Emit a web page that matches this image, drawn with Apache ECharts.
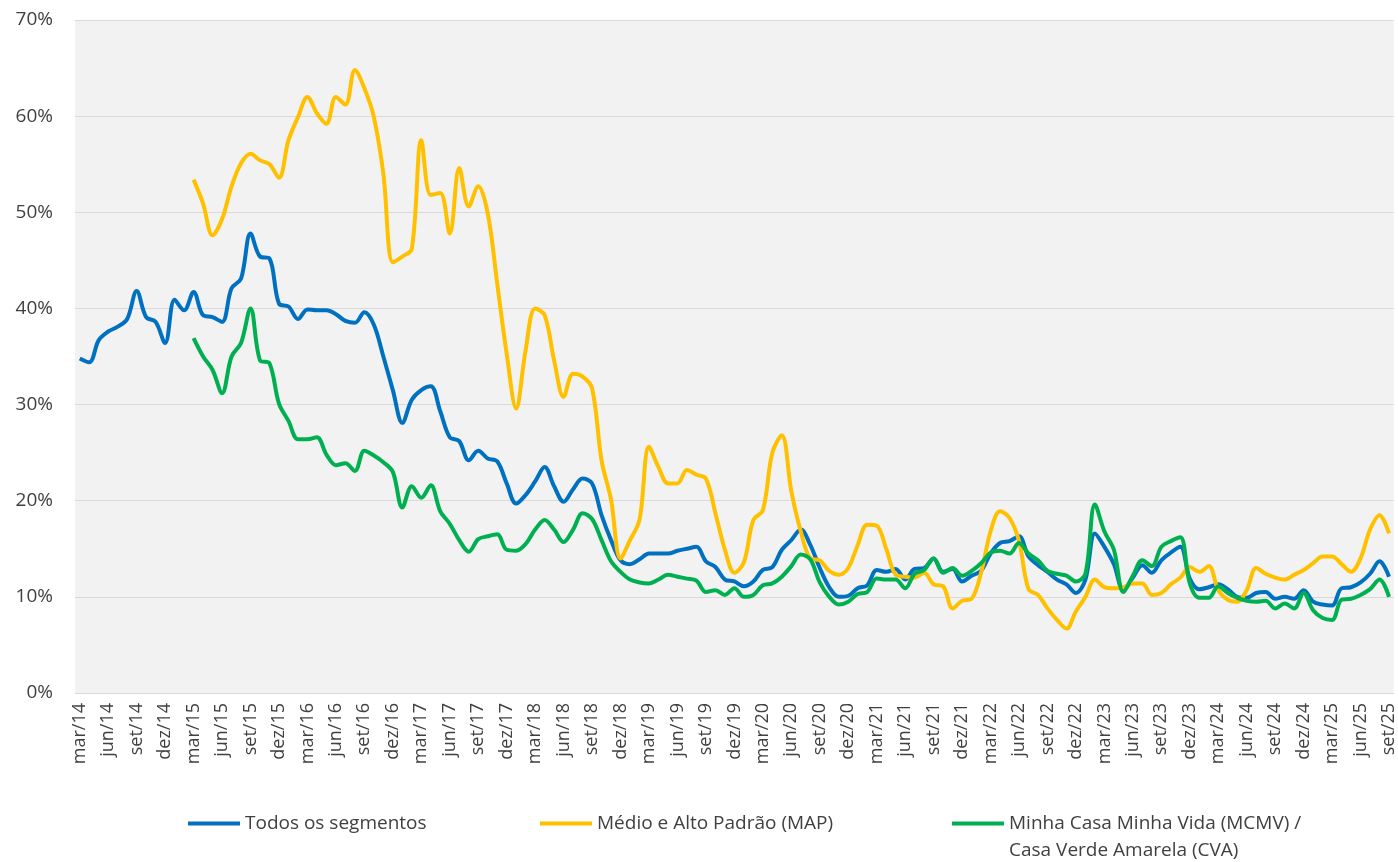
<!DOCTYPE html>
<html>
<head>
<meta charset="utf-8">
<style type="text/css">
    body { margin: 0; background: #fff; }
</style>
</head>
<body>
<div style="width: 1398px;height: 862px;" id="chart"></div>
<script src="https://cdn.jsdelivr.net/npm/echarts@6.0.0/dist/echarts.min.js"></script>
<script>

// eixo x: mar/14 ate set/25, mensal
let meses = ['jan', 'fev', 'mar', 'abr', 'mai', 'jun', 'jul', 'ago', 'set', 'out', 'nov', 'dez'];
let categorias = [];
for (let ano = 2014; ano <= 2025; ano++) {
    for (let m = 0; m < 12; m++) {
        if (ano === 2014 && m < 2) continue;
        if (ano === 2025 && m > 8) continue;
        categorias.push(meses[m] + '/' + String(ano).slice(2));
    }
}

let yTicks = [0, 10, 20, 30, 40, 50, 60, 70];

let nomes = ['Todos os segmentos', 'Médio e Alto Padrão (MAP)', 'Minha Casa Minha Vida (MCMV) / Casa Verde Amarela (CVA)'];

let todos = [
    34.8, 34.4, 36.7, 37.6, 38.1, 38.9, 41.8, 39.1, 38.6, 36.4,
    40.9, 39.8, 41.7, 39.3, 39.1, 38.6, 42.1, 43.1, 47.8, 45.4,
    45.2, 40.5, 40.2, 38.9, 39.9, 39.8, 39.8, 39.4, 38.7, 38.5,
    39.6, 38.3, 35.0, 31.5, 28.1, 30.5, 31.5, 31.9, 29.3, 26.6,
    26.2, 24.2, 25.2, 24.4, 24.1, 21.8, 19.7, 20.6, 22.0, 23.5,
    21.5, 19.9, 21.2, 22.3, 21.8, 18.5, 15.9, 13.8, 13.4, 13.9,
    14.5, 14.5, 14.5, 14.8, 15.0, 15.2, 13.7, 13.1, 11.8, 11.6,
    11.1, 11.6, 12.8, 13.1, 14.9, 15.9, 17.0, 15.4, 13.0, 11.0,
    10.0, 10.1, 10.9, 11.2, 12.8, 12.6, 12.9, 11.8, 12.9, 13.0,
    14.0, 12.6, 12.9, 11.6, 12.2, 12.7, 14.5, 15.6, 15.8, 16.3,
    14.2, 13.3, 12.6, 11.8, 11.3, 10.4, 11.8, 16.6, 15.2, 13.4,
    10.7, 12.0, 13.3, 12.5, 13.8, 14.6, 15.2, 11.9, 10.8, 11.0,
    11.3, 10.8, 10.0, 9.9, 10.4, 10.5, 9.8, 10.0, 9.8, 10.7,
    9.5, 9.2, 9.1, 10.9, 11.0, 11.5, 12.4, 13.7, 12.1
];

let map = [
    null, null, null, null, null, null, null, null, null, null,
    null, null, 53.4, 50.9, 47.6, 49.3, 52.7, 55.1, 56.1, 55.4,
    55.0, 53.6, 57.5, 59.9, 62.0, 60.3, 59.2, 62.0, 61.2, 64.8,
    62.9, 59.9, 54.0, 44.8, 45.4, 46.2, 57.5, 51.8, 52.0, 47.8,
    54.6, 50.6, 52.7, 49.9, 42.6, 35.3, 29.6, 35.7, 40.0, 39.3,
    34.6, 30.8, 33.2, 32.9, 31.7, 24.2, 20.1, 14.0, 15.9, 18.0,
    25.6, 23.5, 21.8, 21.8, 23.2, 22.7, 22.3, 18.7, 14.9, 12.5,
    13.6, 18.0, 19.0, 25.0, 26.8, 21.0, 16.8, 14.0, 13.8, 12.7,
    12.3, 13.0, 15.4, 17.5, 17.4, 15.0, 12.3, 12.1, 12.0, 12.5,
    11.3, 11.1, 8.8, 9.6, 9.8, 12.5, 16.8, 18.9, 18.2, 15.8,
    10.8, 10.2, 8.8, 7.6, 6.7, 8.5, 10.0, 11.8, 11.0, 10.9,
    11.0, 11.4, 11.4, 10.2, 10.4, 11.3, 12.0, 13.1, 12.6, 13.2,
    10.7, 9.7, 9.5, 10.7, 13.0, 12.4, 12.0, 11.8, 12.3, 12.8,
    13.5, 14.2, 14.2, 13.4, 12.6, 14.0, 17.0, 18.5, 16.6
];

let mcmv = [
    null, null, null, null, null, null, null, null, null, null,
    null, null, 36.9, 35.0, 33.6, 31.2, 35.0, 36.4, 40.0, 34.6,
    34.3, 30.1, 28.3, 26.4, 26.4, 26.6, 24.8, 23.7, 23.9, 23.1,
    25.2, 24.7, 24.0, 23.0, 19.3, 21.5, 20.3, 21.6, 18.9, 17.6,
    15.9, 14.7, 16.0, 16.3, 16.5, 14.9, 14.8, 15.5, 17.0, 18.0,
    17.0, 15.7, 17.0, 18.7, 18.1, 15.9, 13.7, 12.6, 11.8, 11.5,
    11.4, 11.8, 12.3, 12.1, 11.9, 11.7, 10.5, 10.7, 10.2, 10.9,
    10.0, 10.2, 11.2, 11.4, 12.1, 13.2, 14.4, 13.9, 11.5, 10.0,
    9.2, 9.5, 10.3, 10.5, 11.9, 11.8, 11.8, 10.9, 12.4, 12.8,
    14.0, 12.5, 13.0, 12.2, 12.7, 13.5, 14.6, 14.8, 14.5, 15.6,
    14.5, 13.8, 12.7, 12.4, 12.2, 11.6, 12.4, 19.6, 16.8, 14.9,
    10.5, 12.2, 13.8, 13.2, 15.2, 15.8, 16.2, 11.4, 9.9, 9.9,
    11.1, 10.4, 9.9, 9.6, 9.5, 9.6, 8.8, 9.3, 8.8, 10.4,
    8.6, 7.8, 7.6, 9.7, 9.8, 10.2, 10.8, 11.8, 10.0
];

let chart = echarts.init(document.getElementById('chart'));

let fonte = '"Open Sans", "Noto Sans", sans-serif';
let textoLegenda = { fontFamily: fonte, fontSize: 19, color: '#404040', lineHeight: 27 };

function serie(nome, dados, cor) {
    return {
        name: nome,
        type: 'line',
        data: dados,
        smooth: 0.35,
        showSymbol: false,
        symbol: 'none',
        lineStyle: { width: 4, color: cor },
        itemStyle: { color: cor }
    };
}

// uma legenda por item, para posicionar cada um
function legenda(nome, x, y, linhas) {
    return {
        data: [nome],
        left: x,
        top: y,
        padding: 0,
        itemWidth: 52,
        itemHeight: 4,
        icon: 'rect',
        textStyle: textoLegenda,
        formatter: function (n) {
            // linha vazia em cima para o icone ficar na altura da primeira linha
            return linhas ? '\n' + linhas.join('\n') : n;
        }
    };
}

let option = {
    animation: false,
    grid: {
        left: 75,
        top: 20,
        width: 1325,
        height: 673,
        show: true,
        backgroundColor: '#f2f2f2',
        borderWidth: 0
    },
    legend: [
        legenda(nomes[0], 188, 810),
        legenda(nomes[1], 540, 810),
        legenda(nomes[2], 952, 783, ['Minha Casa Minha Vida (MCMV) /', 'Casa Verde Amarela (CVA)'])
    ],
    xAxis: {
        type: 'category',
        data: categorias,
        boundaryGap: true,
        axisLine: { lineStyle: { color: '#d9d9d9' } },
        axisTick: { show: false },
        axisLabel: {
            interval: 2,
            rotate: 90,
            margin: 10,
            fontFamily: fonte,
            fontSize: 18,
            color: '#404040'
        }
    },
    yAxis: {
        type: 'value',
        min: yTicks[0],
        max: yTicks[yTicks.length - 1],
        interval: 10,
        axisLine: { show: false },
        axisTick: { show: false },
        splitLine: { lineStyle: { color: '#d9d9d9', width: 1 } },
        axisLabel: {
            formatter: '{value}%',
            margin: 22,
            fontFamily: fonte,
            fontSize: 19,
            color: '#404040'
        }
    },
    series: [
        serie(nomes[0], todos, '#0070C0'),
        serie(nomes[1], map, '#FFC000'),
        serie(nomes[2], mcmv, '#00B050')
    ]
};

chart.setOption(option);

</script>
</body>
</html>
